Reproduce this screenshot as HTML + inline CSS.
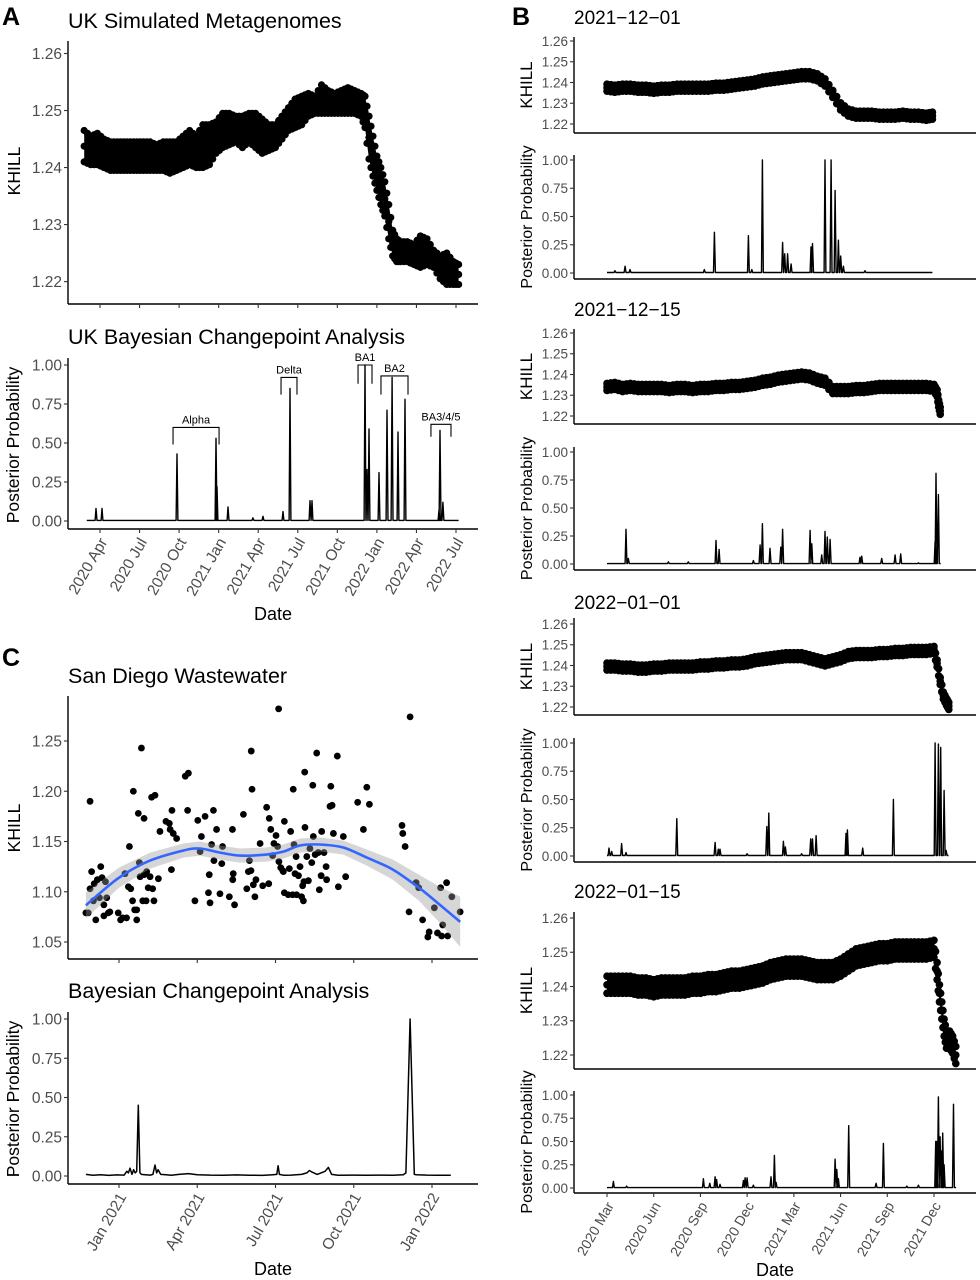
<!DOCTYPE html>
<html><head><meta charset="utf-8"><style>
html,body{margin:0;padding:0;background:#fff;}
svg{display:block;font-family:"Liberation Sans",Arial,sans-serif;}
</style></head><body>
<svg id="fig" width="980" height="1280" viewBox="0 0 980 1280" xmlns="http://www.w3.org/2000/svg">
<rect width="980" height="1280" fill="#fff"/>
<text x="2" y="25" font-size="25" font-weight="bold">A</text>
<text x="512" y="25" font-size="25" font-weight="bold">B</text>
<text x="2" y="666" font-size="25" font-weight="bold">C</text>
<text x="68" y="28" font-size="21.5">UK Simulated Metagenomes</text>
<text x="68" y="344" font-size="21.5">UK Bayesian Changepoint Analysis</text>
<text x="68" y="683" font-size="21.5">San Diego Wastewater</text>
<text x="68" y="998" font-size="21.5">Bayesian Changepoint Analysis</text>
<text x="574" y="24" font-size="19">2021−12−01</text>
<text x="574" y="316" font-size="19">2021−12−15</text>
<text x="574" y="609" font-size="19">2022−01−01</text>
<text x="574" y="898" font-size="19">2022−01−15</text>
<g id="plots"></g>
</svg>
<script>
// ---------- DATA ----------
const aMonths=[1.8,2.3,2.8,3.3,3.8,4.3,4.8,5.3,5.8,6.3,6.8,7.3,7.8,8.3,8.8,9.3,9.8,10.3,10.8,11.3,11.8,12.3,12.8,13.3,13.8,14.3,14.8,15.3,15.8,16.3,16.8,17.3,17.8,18.3,18.8,19.3,19.8,20.3,20.8,21.3,21.8,22.3,22.8,23.1,23.4,23.7,24.0,24.3,24.6,24.9,25.2,25.5,25.8,26.3,26.8,27.3,27.8,28.3,28.8,29.3,29.8,30.2];
const aHi=[1.2465,1.2455,1.246,1.245,1.2445,1.2445,1.2445,1.2445,1.2445,1.2445,1.2445,1.244,1.2445,1.2445,1.2445,1.2455,1.2465,1.2455,1.2475,1.2475,1.248,1.2495,1.2495,1.249,1.249,1.2495,1.2495,1.2485,1.2475,1.2475,1.249,1.2505,1.252,1.2525,1.253,1.2525,1.2545,1.2535,1.253,1.2535,1.254,1.2535,1.253,1.2525,1.249,1.2455,1.242,1.24,1.2375,1.2335,1.229,1.2275,1.227,1.227,1.2265,1.228,1.2275,1.2255,1.2245,1.225,1.2235,1.223];
const aLo=[1.241,1.2405,1.2405,1.240,1.2395,1.2395,1.2395,1.2395,1.2395,1.2395,1.2395,1.2395,1.2395,1.239,1.2395,1.240,1.2405,1.240,1.240,1.2405,1.2425,1.2435,1.244,1.2445,1.2435,1.2445,1.2435,1.2425,1.243,1.2435,1.245,1.2465,1.247,1.2475,1.249,1.2495,1.2495,1.2495,1.2495,1.2495,1.2495,1.2495,1.249,1.247,1.2415,1.2385,1.236,1.2335,1.2315,1.2275,1.2245,1.2235,1.2235,1.2235,1.223,1.2225,1.223,1.2225,1.2205,1.2195,1.2195,1.2195];
const aSpikeMonths=[2.70,3.15,8.84,11.80,11.87,12.71,14.6,15.36,16.88,17.41,18.93,19.08,23.1,23.25,23.4,24.16,24.77,25.15,25.6,26.13,28.71,28.79,29.01];
const aSpikeHeights=[0.08,0.08,0.43,0.53,0.22,0.09,0.02,0.03,0.06,0.85,0.13,0.13,1.0,0.33,0.59,0.31,0.71,0.92,0.57,0.78,0.07,0.58,0.12];
const aXTickMonths=[3,6,9,12,15,18,21,24,27,30];
const aXTickLabels=["2020 Apr","2020 Jul","2020 Oct","2021 Jan","2021 Apr","2021 Jul","2021 Oct","2022 Jan","2022 Apr","2022 Jul"];
const khillTicks=[1.26,1.25,1.24,1.23,1.22];
const probTicks=[1,0.75,0.5,0.25,0];
const probTickLabels=["1.00","0.75","0.50","0.25","0.00"];
const variantNames=["Alpha","Delta","BA1","BA2","BA3/4/5"];
const variantStart=[8.54,16.73,22.57,24.31,28.1];
const variantEnd=[12.03,17.94,23.63,26.36,29.62];
const variantTop=[0.60,0.92,1.0,0.93,0.62];
const variantBottom=[0.49,0.81,0.88,0.81,0.54];

const b1Months=[2,2.5,3,3.5,4,4.5,5,5.5,6,6.5,7,7.5,8,8.5,9,9.5,10,10.5,11,11.5,12,12.5,13,13.5,14,14.5,15,15.5,16,16.5,17,17.5,18,18.5,19,19.5,20,20.5,21,21.5,22,22.5,22.9];
const b1Khill=[1.2375,1.237,1.2375,1.2375,1.237,1.237,1.2365,1.237,1.237,1.2375,1.2375,1.2375,1.2375,1.2375,1.238,1.238,1.2385,1.239,1.2395,1.240,1.241,1.2415,1.242,1.2425,1.243,1.2435,1.2435,1.2425,1.240,1.2345,1.2285,1.2255,1.2245,1.2245,1.2245,1.224,1.224,1.224,1.2245,1.224,1.224,1.2235,1.224];
const b1SpikeMonths=[2.51,3.16,3.48,8.25,8.9,11.08,11.3,11.98,13.28,13.41,13.6,13.82,15.1,15.2,16.0,16.39,16.65,16.86,17.01,17.18,18.57];
const b1SpikeHeights=[0.02,0.06,0.03,0.03,0.36,0.33,0.03,1.0,0.27,0.17,0.17,0.08,0.23,0.26,1.0,1.0,0.73,0.29,0.15,0.06,0.02];
const b2Months=[2,2.5,3,3.5,4,4.5,5,5.5,6,6.5,7,7.5,8,8.5,9,9.5,10,10.5,11,11.5,12,12.5,13,13.5,14,14.5,15,15.5,16,16.5,17,17.5,18,18.5,19,19.5,20,20.5,21,21.5,22,22.5,23,23.2,23.3,23.4];
const b2Khill=[1.234,1.2345,1.2335,1.234,1.2335,1.2335,1.2335,1.2335,1.233,1.2335,1.2335,1.233,1.2335,1.2335,1.234,1.234,1.2345,1.2345,1.235,1.2355,1.2365,1.237,1.238,1.2385,1.239,1.2395,1.239,1.2375,1.2365,1.2325,1.2325,1.2325,1.233,1.233,1.2335,1.234,1.234,1.234,1.234,1.234,1.234,1.234,1.2335,1.231,1.226,1.2225];
const b2SpikeMonths=[3.22,3.37,5.94,7.22,9.0,9.2,11.4,11.83,11.98,12.47,13.16,13.28,15.04,15.15,15.79,16.0,16.15,16.33,18.25,18.36,19.64,20.5,20.86,22.0,23.07,23.13,23.28];
const b2SpikeHeights=[0.31,0.05,0.02,0.02,0.21,0.13,0.03,0.17,0.36,0.14,0.15,0.31,0.3,0.18,0.08,0.29,0.24,0.22,0.06,0.07,0.05,0.08,0.09,0.01,0.2,0.81,0.62];
const b3Months=[2,2.5,3,3.5,4,4.5,5,5.5,6,6.5,7,7.5,8,8.5,9,9.5,10,10.5,11,11.5,12,12.5,13,13.5,14,14.5,15,15.5,16,16.5,17,17.5,18,18.5,19,19.5,20,20.5,21,21.5,22,22.5,23,23.2,23.4,23.6,23.8,23.95];
const b3Khill=[1.2395,1.2395,1.239,1.239,1.2385,1.2385,1.239,1.239,1.2395,1.2395,1.2395,1.2395,1.24,1.24,1.2405,1.2405,1.241,1.241,1.2415,1.2425,1.243,1.2435,1.244,1.2445,1.2445,1.2445,1.2435,1.2425,1.2415,1.2425,1.2435,1.245,1.2455,1.2455,1.2455,1.246,1.246,1.2465,1.2465,1.247,1.247,1.247,1.2475,1.241,1.2325,1.2255,1.2225,1.2205];
const b3SpikeMonths=[2.13,2.3,2.94,3.22,6.48,8.94,9.15,9.26,11.0,12.26,12.39,13.33,13.46,14.5,15.08,15.2,15.43,17.35,17.44,18.42,20.39,23.07,23.28,23.43,23.65,23.78];
const b3SpikeHeights=[0.07,0.04,0.11,0.03,0.33,0.12,0.06,0.06,0.02,0.26,0.38,0.13,0.08,0.02,0.15,0.15,0.18,0.2,0.23,0.07,0.5,1.0,0.99,0.96,0.58,0.05];
const b4Months=[2,2.5,3,3.5,4,4.5,5,5.5,6,6.5,7,7.5,8,8.5,9,9.5,10,10.5,11,11.5,12,12.5,13,13.5,14,14.5,15,15.5,16,16.5,17,17.5,18,18.5,19,19.5,20,20.5,21,21.5,22,22.5,23,23.2,23.35,23.5,23.65,23.8,24.0,24.2,24.4];
const b4Khill=[1.2405,1.2405,1.2405,1.2405,1.240,1.240,1.2395,1.240,1.240,1.240,1.240,1.2405,1.2405,1.241,1.241,1.2415,1.242,1.242,1.2425,1.243,1.2435,1.2445,1.245,1.2455,1.2455,1.2455,1.245,1.2445,1.2445,1.2445,1.2455,1.247,1.2485,1.249,1.2495,1.25,1.25,1.2505,1.2505,1.2505,1.2505,1.2505,1.251,1.2445,1.238,1.233,1.228,1.2245,1.2245,1.223,1.220];
const b4SpikeMonths=[2.41,3.26,8.19,8.6,8.94,9.04,9.26,10.76,10.87,11.0,11.4,12.53,12.75,12.86,16.65,16.76,16.86,17.52,19.28,19.75,21.25,22.0,23.11,23.17,23.28,23.39,23.5,23.56,23.65,24.25];
const b4SpikeHeights=[0.07,0.02,0.1,0.05,0.12,0.09,0.04,0.08,0.11,0.11,0.03,0.12,0.35,0.06,0.31,0.2,0.1,0.67,0.05,0.48,0.02,0.03,0.5,0.5,0.98,0.55,0.4,0.59,0.25,0.9];
const bXTickMonths=[2,5,8,11,14,17,20,23];
const bXTickLabels=["2020 Mar","2020 Jun","2020 Sep","2020 Dec","2021 Mar","2021 Jun","2021 Sep","2021 Dec"];

const cMonths=[-1.27,-1.18,-1.11,-1.11,-1.05,-0.98,-0.95,-0.89,-0.83,-0.75,-0.70,-0.65,-0.58,-0.58,-0.52,-0.47,-0.41,-0.35,-0.03,0.06,0.14,0.23,0.29,0.36,0.40,0.45,0.52,0.55,0.60,0.68,0.68,0.74,0.78,0.81,0.86,0.91,0.96,0.96,1.04,1.06,1.12,1.19,1.25,1.29,1.34,1.38,1.51,1.57,1.80,1.93,1.96,2.01,2.03,2.08,2.21,2.54,2.66,2.63,2.91,3.02,3.11,3.16,3.30,3.43,3.46,3.49,3.55,3.62,3.64,3.74,3.87,3.94,3.97,4.23,4.35,4.36,4.38,4.43,4.77,4.90,4.96,5.00,5.06,5.10,5.07,5.15,5.21,5.25,5.41,5.51,5.66,5.74,5.76,5.82,5.89,5.94,6.02,6.08,6.12,6.13,6.20,6.28,6.30,6.34,6.34,6.49,6.53,6.58,6.66,6.68,6.71,6.75,6.79,6.81,6.88,6.94,7.00,7.04,7.07,7.09,7.12,7.13,7.20,7.26,7.32,7.39,7.43,7.45,7.52,7.58,7.64,7.68,7.75,7.77,7.86,7.94,7.96,8.09,8.12,8.17,8.22,8.37,8.41,8.60,8.69,9.15,9.37,9.50,9.60,10.85,10.88,10.97,11.12,11.16,11.39,11.49,11.64,11.84,11.89,12.09,12.21,12.33,12.37,12.41,12.56,12.60,12.76,13.08];
const cKhill=[1.079,1.079,1.190,1.103,1.120,1.091,1.108,1.072,1.112,1.094,1.125,1.114,1.076,1.087,1.110,1.094,1.079,1.080,1.079,1.072,1.074,1.118,1.074,1.105,1.145,1.103,1.091,1.200,1.082,1.072,1.082,1.178,1.129,1.115,1.243,1.091,1.173,1.117,1.091,1.120,1.104,1.115,1.194,1.103,1.091,1.196,1.113,1.160,1.170,1.168,1.162,1.122,1.181,1.158,1.153,1.215,1.218,1.181,1.091,1.171,1.140,1.155,1.175,1.099,1.117,1.089,1.147,1.181,1.131,1.162,1.098,1.128,1.145,1.095,1.162,1.112,1.118,1.087,1.177,1.103,1.120,1.131,1.121,1.202,1.240,1.107,1.095,1.112,1.148,1.106,1.184,1.108,1.173,1.162,1.136,1.148,1.156,1.145,1.282,1.130,1.124,1.121,1.120,1.099,1.170,1.097,1.123,1.160,1.097,1.202,1.147,1.118,1.135,1.097,1.116,1.125,1.095,1.106,1.091,1.110,1.219,1.164,1.135,1.111,1.143,1.129,1.206,1.155,1.137,1.238,1.139,1.102,1.116,1.160,1.139,1.125,1.112,1.185,1.205,1.186,1.158,1.235,1.105,1.155,1.115,1.189,1.162,1.204,1.187,1.166,1.158,1.145,1.080,1.274,1.109,1.104,1.072,1.055,1.060,1.084,1.059,1.104,1.056,1.067,1.109,1.056,1.095,1.080];
const cFitMonths=[-1.27,0,1.19,2.47,3.1,3.87,4.64,5.66,6.3,6.94,7.7,8.6,9.5,10.5,11.5,12.3,13.08];
const cFitValues=[1.0865,1.114,1.131,1.141,1.143,1.139,1.136,1.137,1.140,1.146,1.147,1.144,1.134,1.122,1.104,1.087,1.070];
const cFitSE=[0.013,0.010,0.008,0.007,0.007,0.007,0.007,0.007,0.007,0.007,0.007,0.007,0.008,0.010,0.013,0.018,0.025];
const cProbMonths=[-1.27,-1.0,-0.7,-0.4,-0.1,0.2,0.3,0.36,0.42,0.5,0.56,0.62,0.68,0.74,0.8,0.86,1.0,1.2,1.3,1.38,1.44,1.5,1.6,1.8,2.0,2.3,2.66,3.0,3.5,4.0,4.5,5.0,5.5,5.9,6.05,6.1,6.15,6.3,6.6,7.0,7.2,7.3,7.4,7.6,7.9,8.03,8.15,8.4,9.0,9.5,10.0,10.5,10.9,11.0,11.16,11.32,11.4,11.8,12.2,12.72];
const cProbValues=[0.01,0.005,0.008,0.004,0.007,0.006,0.03,0.02,0.05,0.01,0.04,0.02,0.03,0.45,0.02,0.01,0.008,0.006,0.01,0.07,0.02,0.04,0.01,0.008,0.005,0.01,0.015,0.008,0.006,0.005,0.007,0.005,0.004,0.008,0.01,0.065,0.01,0.005,0.006,0.01,0.02,0.035,0.025,0.01,0.03,0.055,0.01,0.005,0.006,0.005,0.006,0.005,0.008,0.02,1.0,0.01,0.008,0.006,0.005,0.005];
const cXTickMonths=[0,3,6,9,12];
const cXTickLabels=["Jan 2021","Apr 2021","Jul 2021","Oct 2021","Jan 2022"];
const cYTicks=[1.25,1.20,1.15,1.10,1.05];

// ---------- RENDER ----------
const NS="http://www.w3.org/2000/svg";
const root=document.getElementById('plots');
function lin(d0,d1,r0,r1){return v=>r0+(v-d0)*(r1-r0)/(d1-d0);}
function mk(tag,parent){const e=document.createElementNS(NS,tag);parent.appendChild(e);return e;}

function axes(g,box,ys,yt,ytl,tickFont,xs,xt,xtl,showXTicks,xFont){
  const ya=mk('line',g);
  
  
  ya.setAttribute('x1',box.l);ya.setAttribute('x2',box.l);ya.setAttribute('y1',box.t);ya.setAttribute('y2',box.b);
  ya.setAttribute('stroke','#000');ya.setAttribute('stroke-width','1.4');
  const xa=mk('line',g);
  
  
  xa.setAttribute('x1',box.l);xa.setAttribute('x2',box.r);xa.setAttribute('y1',box.b);xa.setAttribute('y2',box.b);
  xa.setAttribute('stroke','#000');xa.setAttribute('stroke-width','1.4');
  yt.forEach((v,i)=>{
    const y=ys(v);
    const t=mk('line',g);
    
    
    t.setAttribute('x1',box.l-4);t.setAttribute('x2',box.l);t.setAttribute('y1',y);t.setAttribute('y2',y);
    t.setAttribute('stroke','#333');t.setAttribute('stroke-width','1.1');
    const tx=mk('text',g);
    
    
    tx.setAttribute('x',box.l-6);tx.setAttribute('y',y);tx.setAttribute('dy','0.36em');
    tx.setAttribute('text-anchor','end');tx.setAttribute('font-size',tickFont);tx.setAttribute('fill','#4d4d4d');
    tx.textContent=ytl[i];
  });
  if(showXTicks){
    xt.forEach((m,i)=>{
      const x=xs(m);
      const t=mk('line',g);
      
      
      t.setAttribute('x1',x);t.setAttribute('x2',x);t.setAttribute('y1',box.b);t.setAttribute('y2',box.b+4);
      t.setAttribute('stroke','#333');t.setAttribute('stroke-width','1.1');
      if(xtl){
        const tx=mk('text',g);
        
        
        tx.setAttribute('transform','translate('+(x+3)+','+(box.b+10)+') rotate(-60)');
        tx.setAttribute('dy','0.36em');
        tx.setAttribute('text-anchor','end');tx.setAttribute('font-size',xFont);tx.setAttribute('fill','#4d4d4d');
        tx.textContent=xtl[i];
      }
    });
  }
}
function yTitle(g,x,cy,txt,size,name){
  const t=mk('text',g);
  
  
  t.setAttribute('transform','translate('+x+','+cy+') rotate(-90)');
  t.setAttribute('text-anchor','middle');t.setAttribute('font-size',size);
  t.textContent=txt;
}
function xTitle(g,x,y,size,name){
  const t=mk('text',g);
  
  
  t.setAttribute('x',x);t.setAttribute('y',y);t.setAttribute('text-anchor','middle');t.setAttribute('font-size',size);
  t.textContent='Date';
}
function dot(g,x,y,r,name){
  const c=mk('circle',g);
  
  
  c.setAttribute('cx',x);c.setAttribute('cy',y);c.setAttribute('r',r);c.setAttribute('fill','#000');
}
function cloud(g,xs,ys,months,hi,lo,r){
  let d='';
  months.forEach((m,i)=>{d+=(i?'L':'M')+xs(m).toFixed(1)+','+ys(hi[i]).toFixed(1);});
  for(let i=months.length-1;i>=0;i--){d+='L'+xs(months[i]).toFixed(1)+','+ys(lo[i]).toFixed(1);}
  const p=mk('path',g);
  
  
  p.setAttribute('d',d+'Z');p.setAttribute('fill','#000');
  months.forEach((m,i)=>{
    dot(g,xs(m),ys(hi[i]),r,'khill-point');
    dot(g,xs(m),ys(lo[i]),r,'khill-point');
    dot(g,xs(m),ys((hi[i]+lo[i])/2),r,'khill-point');
    if(i<months.length-1){
      const mm=(m+months[i+1])/2;
      dot(g,xs(mm),ys((hi[i]+hi[i+1])/2),r,'khill-point');
      dot(g,xs(mm),ys((lo[i]+lo[i+1])/2),r,'khill-point');
    }
  });
}
function spikes(g,xs,ys,m0,m1,sm,sh,w,name){
  const base=0.004;
  let d='M'+xs(m0).toFixed(1)+','+ys(base).toFixed(1);
  sm.forEach((m,i)=>{
    d+='L'+xs(m-w).toFixed(1)+','+ys(base).toFixed(1);
    d+='L'+xs(m).toFixed(1)+','+ys(sh[i]).toFixed(1);
    d+='L'+xs(m+w).toFixed(1)+','+ys(base).toFixed(1);
  });
  d+='L'+xs(m1).toFixed(1)+','+ys(base).toFixed(1);
  const p=mk('path',g);
  
  
  p.setAttribute('d',d);p.setAttribute('fill','none');p.setAttribute('stroke','#000');p.setAttribute('stroke-width','1.4');p.setAttribute('stroke-linejoin','round');
}

// ---- Panel A ----
const gA=mk('g',root);


const xA=lin(3,30,100,456);
const yA=lin(1.26,1.22,53.5,281.6);
const yAp=lin(1,0,365,521);
cloud(gA,xA,yA,aMonths,aHi,aLo,3.6);
axes(gA,{l:68,r:478,t:41,b:304},yA,khillTicks,khillTicks.map(v=>v.toFixed(2)),15.5,xA,aXTickMonths,null,true,15.5);
yTitle(gA,20,171,'KHILL',17.5,'y-axis-title-khill-a');
spikes(gA,xA,yAp,2.0,30.2,aSpikeMonths,aSpikeHeights,0.07,'posterior-line-a');
axes(gA,{l:68,r:478,t:358,b:529},yAp,probTicks,probTickLabels,15.5,xA,aXTickMonths,aXTickLabels,true,15.5);
yTitle(gA,19,445,'Posterior Probability',17.5,'y-axis-title-posterior-a');
xTitle(gA,273,620,18,'x-axis-title-a');
variantNames.forEach((nm,i)=>{
  const x1=xA(variantStart[i]),x2=xA(variantEnd[i]),yt=yAp(variantTop[i]),yb=yAp(variantBottom[i]);
  const pl=mk('polyline',gA);
  
  
  pl.setAttribute('points',x1+','+yb+' '+x1+','+yt+' '+x2+','+yt+' '+x2+','+yb);
  pl.setAttribute('fill','none');pl.setAttribute('stroke','#000');pl.setAttribute('stroke-width','1.1');
  const t=mk('text',gA);
  
  
  t.setAttribute('x',(x1+x2)/2);t.setAttribute('y',yt-4);t.setAttribute('text-anchor','middle');t.setAttribute('font-size','11');
  t.textContent=nm;
});

// ---- Panel B ----
const gB=mk('g',root);


const xB=lin(2,23,607,934);
const bPanels=[
 {m:b1Months,k:b1Khill,sp:0.0017,sm:b1SpikeMonths,sh:b1SpikeHeights,end:22.9,ky:[41,124],kb:{t:37,b:133},py:[160,273],pb:{t:155,b:279}},
 {m:b2Months,k:b2Khill,sp:0.0017,sm:b2SpikeMonths,sh:b2SpikeHeights,end:23.43,ky:[333,416],kb:{t:329,b:424},py:[452,564],pb:{t:447,b:570}},
 {m:b3Months,k:b3Khill,sp:0.0017,sm:b3SpikeMonths,sh:b3SpikeHeights,end:23.93,ky:[624,707],kb:{t:618,b:715},py:[743,856],pb:{t:738,b:862}},
 {m:b4Months,k:b4Khill,sp:0.0025,sm:b4SpikeMonths,sh:b4SpikeHeights,end:24.42,ky:[918,1055],kb:{t:912,b:1069},py:[1095,1188],pb:{t:1091,b:1193}}
];
bPanels.forEach((P,idx)=>{
  const yk=lin(1.26,1.22,P.ky[0],P.ky[1]);
  const yp=lin(1,0,P.py[0],P.py[1]);
  const hi=P.k.map(v=>v+P.sp), lo=P.k.map(v=>v-P.sp);
  cloud(gB,xB,yk,P.m,hi,lo,3.8);
  axes(gB,{l:574,r:976,t:P.kb.t,b:P.kb.b},yk,khillTicks,khillTicks.map(v=>v.toFixed(2)),13.5,xB,bXTickMonths,null,false,14);
  yTitle(gB,532,(P.kb.t+P.kb.b)/2,'KHILL',17,'y-axis-title-khill-b');
  spikes(gB,xB,yp,2,P.end,P.sm,P.sh,0.06,'posterior-line-b');
  const last=idx===3;
  axes(gB,{l:574,r:976,t:P.pb.t,b:P.pb.b},yp,probTicks,probTickLabels,13.5,xB,bXTickMonths,last?bXTickLabels:null,last,14);
  yTitle(gB,532,(P.pb.t+P.pb.b)/2,'Posterior Probability',16,'y-axis-title-posterior-b');
});
xTitle(gB,775,1276,18,'x-axis-title-b');

// ---- Panel C ----
const gC=mk('g',root);


const xC=lin(0,12,119,432);
const yC=lin(1.25,1.05,741,942);
const yCp=lin(1,0,1019,1176);
cMonths.forEach((m,i)=>{dot(gC,xC(m),yC(cKhill[i]),3.4,'wastewater-point');});
let rd='';
cFitMonths.forEach((m,i)=>{rd+=(i?'L':'M')+xC(m).toFixed(1)+','+yC(cFitValues[i]+cFitSE[i]).toFixed(1);});
for(let i=cFitMonths.length-1;i>=0;i--){rd+='L'+xC(cFitMonths[i]).toFixed(1)+','+yC(cFitValues[i]-cFitSE[i]).toFixed(1);}
const rib=mk('path',gC);


rib.setAttribute('d',rd+'Z');rib.setAttribute('fill','#999');rib.setAttribute('fill-opacity','0.4');
const fp=cFitMonths.map((m,i)=>[xC(m),yC(cFitValues[i])]);
let fd='M'+fp[0][0]+','+fp[0][1];
for(let i=0;i<fp.length-1;i++){
  const p0=fp[Math.max(0,i-1)],p1=fp[i],p2=fp[i+1],p3=fp[Math.min(fp.length-1,i+2)];
  const c1=[p1[0]+(p2[0]-p0[0])/6,p1[1]+(p2[1]-p0[1])/6],c2=[p2[0]-(p3[0]-p1[0])/6,p2[1]-(p3[1]-p1[1])/6];
  fd+='C'+c1[0].toFixed(1)+','+c1[1].toFixed(1)+' '+c2[0].toFixed(1)+','+c2[1].toFixed(1)+' '+p2[0].toFixed(1)+','+p2[1].toFixed(1);
}
const fl=mk('path',gC);


fl.setAttribute('d',fd);fl.setAttribute('fill','none');fl.setAttribute('stroke','#3366FF');fl.setAttribute('stroke-width','2.6');
axes(gC,{l:68,r:478,t:696,b:959},yC,cYTicks,cYTicks.map(v=>v.toFixed(2)),15.5,xC,cXTickMonths,null,true,15.5);
yTitle(gC,20,828,'KHILL',17.5,'y-axis-title-khill-c');
let cd='';
cProbMonths.forEach((m,i)=>{cd+=(i?'L':'M')+xC(m).toFixed(1)+','+yCp(cProbValues[i]).toFixed(1);});
const cl=mk('path',gC);


cl.setAttribute('d',cd);cl.setAttribute('fill','none');cl.setAttribute('stroke','#000');cl.setAttribute('stroke-width','1.5');cl.setAttribute('stroke-linejoin','round');
axes(gC,{l:68,r:478,t:1012,b:1184},yCp,probTicks,probTickLabels,15.5,xC,cXTickMonths,cXTickLabels,true,15.5);
yTitle(gC,19,1099,'Posterior Probability',17.5,'y-axis-title-posterior-c');
xTitle(gC,273,1275,18,'x-axis-title-c');
</script>
</body></html>
